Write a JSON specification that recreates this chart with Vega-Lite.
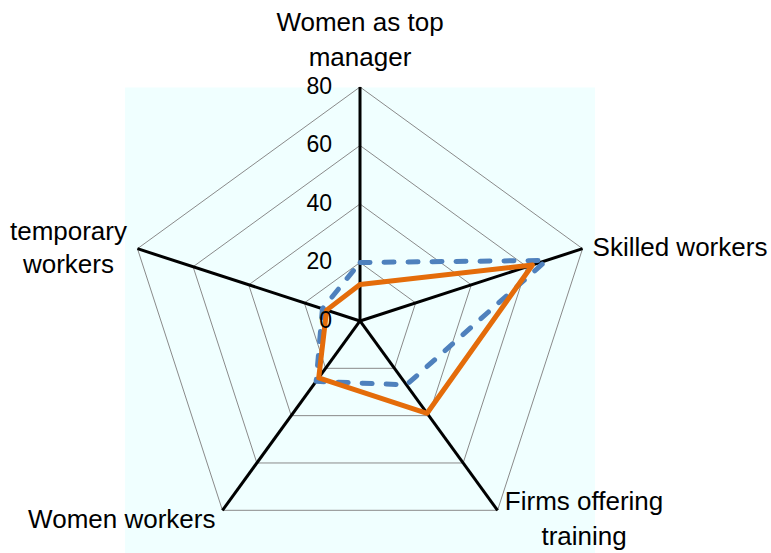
{
  "$schema": "https://vega.github.io/schema/vega-lite/v6.json",
  "width": 771,
  "height": 553,
  "padding": 0,
  "autosize": {"type": "none"},
  "background": "white",
  "config": {"view": {"stroke": null}, "font": "Liberation Sans"},
  "datasets": {
    "series": [
      {"series": "A", "axis": "Women as top manager", "k": 0, "value": 12.5},
      {"series": "A", "axis": "Skilled workers", "k": 1, "value": 62},
      {"series": "A", "axis": "Firms offering training", "k": 2, "value": 39},
      {"series": "A", "axis": "Women workers", "k": 3, "value": 24},
      {"series": "A", "axis": "temporary workers", "k": 4, "value": 12},
      {"series": "B", "axis": "Women as top manager", "k": 0, "value": 20},
      {"series": "B", "axis": "Skilled workers", "k": 1, "value": 67},
      {"series": "B", "axis": "Firms offering training", "k": 2, "value": 27},
      {"series": "B", "axis": "Women workers", "k": 3, "value": 25.5},
      {"series": "B", "axis": "temporary workers", "k": 4, "value": 13.5}
    ],
    "grid": [
      {"level": 20, "k": 0}, {"level": 20, "k": 1}, {"level": 20, "k": 2}, {"level": 20, "k": 3}, {"level": 20, "k": 4},
      {"level": 40, "k": 0}, {"level": 40, "k": 1}, {"level": 40, "k": 2}, {"level": 40, "k": 3}, {"level": 40, "k": 4},
      {"level": 60, "k": 0}, {"level": 60, "k": 1}, {"level": 60, "k": 2}, {"level": 60, "k": 3}, {"level": 60, "k": 4},
      {"level": 80, "k": 0}, {"level": 80, "k": 1}, {"level": 80, "k": 2}, {"level": 80, "k": 3}, {"level": 80, "k": 4}
    ],
    "spokes": [
      {"axis": "Women as top\nmanager", "k": 0, "value": 80},
      {"axis": "Skilled workers", "k": 1, "value": 80},
      {"axis": "Firms offering\ntraining", "k": 2, "value": 80},
      {"axis": "Women workers", "k": 3, "value": 80},
      {"axis": "temporary\nworkers", "k": 4, "value": 80}
    ],
    "ticks": [{"tick": 0}, {"tick": 20}, {"tick": 40}, {"tick": 60}, {"tick": 80}],
    "panel": [{"lo": -80.34, "hi": 80.34, "bottom": -80, "top": 79.8}]
  },
  "layer": [
    {
      "data": {"name": "panel"},
      "mark": {"type": "rect", "color": "#f0ffff"},
      "encoding": {
        "x": {"field": "lo", "type": "quantitative", "scale": {"domain": [-123.08, 140.51], "nice": false, "zero": false}, "axis": null},
        "x2": {"field": "hi"},
        "y": {"field": "top", "type": "quantitative", "scale": {"domain": [-79.32, 109.74], "nice": false, "zero": false}, "axis": null},
        "y2": {"field": "bottom"}
      }
    },
    {
      "data": {"name": "grid"},
      "transform": [
        {"calculate": "datum.level * sin(datum.k * 2 * PI / 5)", "as": "x"},
        {"calculate": "datum.level * cos(datum.k * 2 * PI / 5)", "as": "y"}
      ],
      "mark": {"type": "line", "interpolate": "linear-closed", "color": "#8a8a8a", "strokeWidth": 1},
      "encoding": {
        "x": {"field": "x", "type": "quantitative", "scale": {"domain": [-123.08, 140.51], "nice": false, "zero": false}, "axis": null},
        "y": {"field": "y", "type": "quantitative", "scale": {"domain": [-79.32, 109.74], "nice": false, "zero": false}, "axis": null},
        "detail": {"field": "level", "type": "nominal"},
        "order": {"field": "k", "type": "quantitative"}
      }
    },
    {
      "data": {"name": "spokes"},
      "transform": [
        {"calculate": "datum.value * sin(datum.k * 2 * PI / 5)", "as": "x"},
        {"calculate": "datum.value * cos(datum.k * 2 * PI / 5)", "as": "y"},
        {"calculate": "0", "as": "cx"},
        {"calculate": "0", "as": "cy"}
      ],
      "mark": {"type": "rule", "color": "black", "strokeWidth": 3},
      "encoding": {
        "x": {"field": "cx", "type": "quantitative", "scale": {"domain": [-123.08, 140.51], "nice": false, "zero": false}, "axis": null},
        "y": {"field": "cy", "type": "quantitative", "scale": {"domain": [-79.32, 109.74], "nice": false, "zero": false}, "axis": null},
        "x2": {"field": "x"},
        "y2": {"field": "y"}
      }
    },
    {
      "data": {"name": "series"},
      "transform": [
        {"filter": "datum.series === 'B'"},
        {"calculate": "datum.value * sin(datum.k * 2 * PI / 5)", "as": "x"},
        {"calculate": "datum.value * cos(datum.k * 2 * PI / 5)", "as": "y"}
      ],
      "mark": {"type": "line", "interpolate": "linear-closed", "color": "#4f81bd", "strokeWidth": 5, "strokeDash": [10, 14], "strokeCap": "round", "strokeJoin": "round"},
      "encoding": {
        "x": {"field": "x", "type": "quantitative", "scale": {"domain": [-123.08, 140.51], "nice": false, "zero": false}, "axis": null},
        "y": {"field": "y", "type": "quantitative", "scale": {"domain": [-79.32, 109.74], "nice": false, "zero": false}, "axis": null},
        "order": {"field": "k", "type": "quantitative"}
      }
    },
    {
      "data": {"name": "series"},
      "transform": [
        {"filter": "datum.series === 'A'"},
        {"calculate": "datum.value * sin(datum.k * 2 * PI / 5)", "as": "x"},
        {"calculate": "datum.value * cos(datum.k * 2 * PI / 5)", "as": "y"}
      ],
      "mark": {"type": "line", "interpolate": "linear-closed", "color": "#e46c0a", "strokeWidth": 5, "strokeJoin": "round"},
      "encoding": {
        "x": {"field": "x", "type": "quantitative", "scale": {"domain": [-123.08, 140.51], "nice": false, "zero": false}, "axis": null},
        "y": {"field": "y", "type": "quantitative", "scale": {"domain": [-79.32, 109.74], "nice": false, "zero": false}, "axis": null},
        "order": {"field": "k", "type": "quantitative"}
      }
    },
    {
      "data": {"name": "ticks"},
      "transform": [{"calculate": "0", "as": "cx"}],
      "mark": {"type": "text", "align": "right", "baseline": "middle", "dx": -28, "fontSize": 23, "color": "black"},
      "encoding": {
        "x": {"field": "cx", "type": "quantitative", "scale": {"domain": [-123.08, 140.51], "nice": false, "zero": false}, "axis": null},
        "y": {"field": "tick", "type": "quantitative", "scale": {"domain": [-79.32, 109.74], "nice": false, "zero": false}, "axis": null},
        "text": {"field": "tick", "type": "quantitative"}
      }
    },
    {
      "data": {"name": "spokes"},
      "transform": [
        {"filter": "datum.k === 0"},
        {"calculate": "datum.value * sin(datum.k * 2 * PI / 5)", "as": "x"},
        {"calculate": "datum.value * cos(datum.k * 2 * PI / 5)", "as": "y"}
      ],
      "mark": {"type": "text", "align": "center", "baseline": "alphabetic", "dy": -56, "lineBreak": "\n", "lineHeight": 35, "fontSize": 26, "color": "black"},
      "encoding": {
        "x": {"field": "x", "type": "quantitative", "scale": {"domain": [-123.08, 140.51], "nice": false, "zero": false}, "axis": null},
        "y": {"field": "y", "type": "quantitative", "scale": {"domain": [-79.32, 109.74], "nice": false, "zero": false}, "axis": null},
        "text": {"field": "axis", "type": "nominal"}
      }
    },
    {
      "data": {"name": "spokes"},
      "transform": [
        {"filter": "datum.k === 1"},
        {"calculate": "datum.value * sin(datum.k * 2 * PI / 5)", "as": "x"},
        {"calculate": "datum.value * cos(datum.k * 2 * PI / 5)", "as": "y"}
      ],
      "mark": {"type": "text", "align": "left", "baseline": "alphabetic", "dx": 10, "dy": 7, "fontSize": 26, "color": "black"},
      "encoding": {
        "x": {"field": "x", "type": "quantitative", "scale": {"domain": [-123.08, 140.51], "nice": false, "zero": false}, "axis": null},
        "y": {"field": "y", "type": "quantitative", "scale": {"domain": [-79.32, 109.74], "nice": false, "zero": false}, "axis": null},
        "text": {"field": "axis", "type": "nominal"}
      }
    },
    {
      "data": {"name": "spokes"},
      "transform": [
        {"filter": "datum.k === 2"},
        {"calculate": "datum.value * sin(datum.k * 2 * PI / 5)", "as": "x"},
        {"calculate": "datum.value * cos(datum.k * 2 * PI / 5)", "as": "y"}
      ],
      "mark": {"type": "text", "align": "center", "baseline": "alphabetic", "dx": 86.5, "dy": 0, "lineBreak": "\n", "lineHeight": 35, "fontSize": 26, "color": "black"},
      "encoding": {
        "x": {"field": "x", "type": "quantitative", "scale": {"domain": [-123.08, 140.51], "nice": false, "zero": false}, "axis": null},
        "y": {"field": "y", "type": "quantitative", "scale": {"domain": [-79.32, 109.74], "nice": false, "zero": false}, "axis": null},
        "text": {"field": "axis", "type": "nominal"}
      }
    },
    {
      "data": {"name": "spokes"},
      "transform": [
        {"filter": "datum.k === 3"},
        {"calculate": "datum.value * sin(datum.k * 2 * PI / 5)", "as": "x"},
        {"calculate": "datum.value * cos(datum.k * 2 * PI / 5)", "as": "y"}
      ],
      "mark": {"type": "text", "align": "right", "baseline": "alphabetic", "dx": -7, "dy": 18, "fontSize": 26, "color": "black"},
      "encoding": {
        "x": {"field": "x", "type": "quantitative", "scale": {"domain": [-123.08, 140.51], "nice": false, "zero": false}, "axis": null},
        "y": {"field": "y", "type": "quantitative", "scale": {"domain": [-79.32, 109.74], "nice": false, "zero": false}, "axis": null},
        "text": {"field": "axis", "type": "nominal"}
      }
    },
    {
      "data": {"name": "spokes"},
      "transform": [
        {"filter": "datum.k === 4"},
        {"calculate": "datum.value * sin(datum.k * 2 * PI / 5)", "as": "x"},
        {"calculate": "datum.value * cos(datum.k * 2 * PI / 5)", "as": "y"}
      ],
      "mark": {"type": "text", "align": "center", "baseline": "alphabetic", "dx": -69, "dy": -9, "lineBreak": "\n", "lineHeight": 33, "fontSize": 26, "color": "black"},
      "encoding": {
        "x": {"field": "x", "type": "quantitative", "scale": {"domain": [-123.08, 140.51], "nice": false, "zero": false}, "axis": null},
        "y": {"field": "y", "type": "quantitative", "scale": {"domain": [-79.32, 109.74], "nice": false, "zero": false}, "axis": null},
        "text": {"field": "axis", "type": "nominal"}
      }
    }
  ]
}
